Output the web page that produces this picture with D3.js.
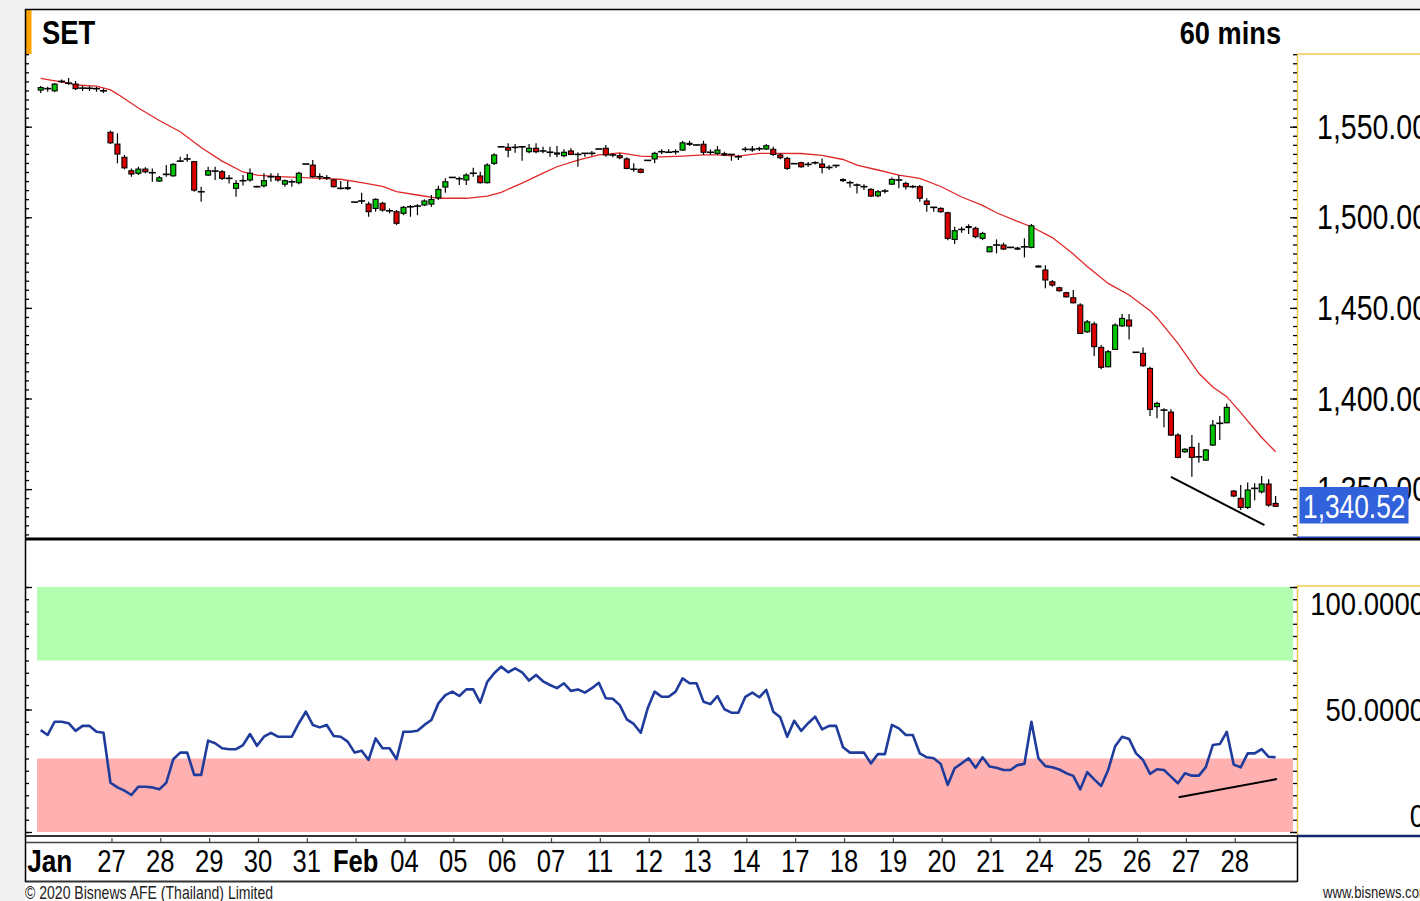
<!DOCTYPE html>
<html>
<head>
<meta charset="utf-8">
<script src="https://cdn.jsdelivr.net/npm/d3@7"></script>
<style>
  html, body { margin: 0; padding: 0; background: #f0f0f0; }
  svg { display: block; }
</style>
</head>
<body>
<div id="chart"></div>
<script>
// SET index, 60 minute candles (Jan 23 - Feb 28, 2020)
const opens = [
  1570.2,1571.0,1569.8,1575.0,1574.3,1573.5,1571.3,1571.2,1571.0,1569.8,
  1546.9,1540.4,1533.1,1525.7,1524.3,1526.6,1524.6,1520.0,1523.7,1522.9,
  1531.0,1532.2,1530.7,1514.1,1523.3,1525.5,1525.1,1521.5,1516.0,1520.2,
  1520.6,1516.9,1517.4,1522.4,1522.4,1518.3,1519.6,1519.1,1529.4,1528.8,
  1522.4,1521.8,1520.6,1516.0,1516.4,1508.4,1509.0,1507.3,1504.9,1507.7,
  1503.6,1503.1,1502.2,1505.8,1506.2,1506.8,1507.3,1510.7,1516.7,1522.0,
  1521.3,1520.6,1524.3,1522.8,1519.1,1529.8,1538.9,1538.6,1538.6,1538.9,
  1536.2,1538.1,1536.6,1535.9,1535.5,1534.0,1536.6,1534.7,1535.3,1535.3,
  1537.7,1538.1,1534.4,1534.0,1532.2,1526.5,1526.5,1531.4,1532.2,1536.2,
  1535.9,1536.2,1537.1,1540.8,1539.9,1540.3,1535.9,1535.3,1535.1,1534.7,
  1533.4,1537.5,1537.7,1537.8,1537.7,1537.5,1534.4,1532.5,1529.6,1530.1,
  1529.2,1530.1,1529.4,1527.5,1528.6,1520.8,1519.1,1517.8,1516.9,1515.4,
  1511.9,1514.5,1518.3,1520.6,1518.7,1516.9,1516.9,1509.0,1505.5,1504.9,
  1502.5,1487.8,1493.3,1494.9,1493.9,1488.4,1481.0,1484.7,1484.7,1483.4,
  1483.0,1483.7,1483.4,1473.1,1470.9,1464.4,1461.1,1458.4,1455.6,1451.6,
  1436.8,1441.1,1428.2,1417.5,1427.1,1440.1,1443.3,1425.5,1424.9,1416.6,
  1395.5,1393.6,1392.5,1379.8,1370.6,1373.0,1367.8,1366.0,1374.3,1386.3,
  1386.6,1348.9,1344.9,1339.9,1350.4,1348.5,1352.8,1342.1
];
const highs = [
  1572.4,1572.0,1574.1,1576.0,1576.9,1575.2,1572.7,1572.4,1572.0,1571.1,
  1547.8,1546.3,1534.4,1527.0,1527.9,1527.6,1527.0,1522.8,1528.8,1529.8,
  1533.4,1534.9,1530.8,1516.9,1527.9,1527.9,1526.1,1523.3,1520.6,1523.3,
  1527.0,1517.4,1524.3,1524.3,1524.3,1520.9,1520.9,1525.1,1529.4,1531.6,
  1524.3,1523.3,1520.9,1520.0,1520.0,1508.4,1513.6,1508.6,1510.5,1508.6,
  1504.9,1504.0,1506.2,1506.8,1507.3,1509.9,1512.3,1517.4,1521.5,1522.2,
  1522.4,1524.3,1527.3,1525.1,1529.8,1535.3,1539.2,1540.8,1540.4,1538.9,
  1540.4,1540.8,1538.9,1538.9,1539.3,1537.5,1538.1,1535.9,1535.3,1536.6,
  1537.9,1539.9,1535.3,1535.3,1533.1,1529.8,1527.0,1531.6,1536.2,1537.5,
  1537.5,1537.5,1542.2,1542.2,1540.1,1542.2,1537.5,1539.3,1536.2,1534.7,
  1534.4,1538.9,1539.3,1538.9,1540.4,1538.9,1535.3,1533.4,1529.8,1530.7,
  1530.5,1531.0,1532.5,1528.8,1528.6,1521.5,1520.2,1518.7,1518.2,1516.0,
  1515.0,1515.6,1522.0,1523.3,1519.6,1517.8,1517.8,1510.5,1505.5,1505.5,
  1503.1,1494.8,1494.8,1496.1,1494.8,1492.0,1484.1,1487.8,1486.0,1483.4,
  1483.7,1488.4,1496.3,1473.5,1473.6,1465.4,1461.7,1458.9,1459.9,1452.5,
  1443.3,1442.3,1429.5,1426.7,1441.5,1446.6,1446.6,1425.5,1428.2,1417.5,
  1398.2,1394.6,1394.0,1380.8,1372.5,1379.8,1375.6,1372.1,1388.1,1390.3,
  1397.3,1349.5,1352.2,1353.7,1353.2,1357.2,1355.4,1346.2
];
const lows = [
  1568.6,1569.3,1569.1,1574.1,1573.0,1570.2,1569.7,1569.7,1569.3,1568.6,
  1540.4,1529.8,1526.5,1522.4,1523.3,1524.3,1519.6,1519.6,1522.4,1522.4,
  1530.7,1530.7,1514.1,1508.6,1522.8,1520.6,1520.6,1518.7,1511.3,1517.6,
  1519.6,1516.5,1516.5,1519.6,1519.6,1516.9,1516.9,1518.3,1529.1,1522.0,
  1520.6,1520.6,1516.5,1515.4,1515.0,1508.4,1507.3,1500.3,1503.1,1503.1,
  1502.2,1495.7,1501.2,1500.3,1501.2,1506.2,1505.8,1509.5,1513.6,1521.7,
  1517.8,1517.8,1522.4,1518.7,1518.7,1528.8,1538.6,1533.1,1535.6,1531.2,
  1535.3,1535.3,1535.3,1533.4,1533.1,1533.1,1534.2,1527.9,1533.4,1534.0,
  1537.5,1533.4,1533.1,1532.0,1526.5,1525.1,1524.3,1531.2,1529.8,1534.9,
  1535.9,1534.7,1536.7,1539.3,1539.7,1534.4,1534.4,1534.4,1533.8,1531.2,
  1531.6,1536.2,1536.2,1536.6,1537.1,1533.8,1532.0,1526.1,1529.4,1527.3,
  1527.9,1529.2,1524.3,1526.1,1527.2,1519.5,1516.5,1513.2,1515.0,1511.3,
  1511.0,1513.2,1517.8,1516.0,1515.4,1516.0,1508.6,1503.1,1503.1,1502.5,
  1487.4,1485.2,1491.5,1490.8,1488.4,1487.4,1480.7,1480.1,1481.9,1482.9,
  1481.9,1477.9,1482.9,1472.4,1460.8,1461.7,1458.9,1455.8,1452.5,1435.6,
  1436.3,1423.4,1416.1,1417.2,1426.7,1439.4,1432.6,1425.5,1417.5,1390.3,
  1389.1,1384.1,1379.3,1367.0,1370.1,1356.8,1364.5,1365.5,1373.8,1377.1,
  1386.3,1345.5,1338.4,1339.0,1343.9,1347.6,1340.3,1340.3
];
const closes = [
  1571.6,1571.0,1573.5,1575.0,1574.0,1571.0,1571.3,1571.2,1571.0,1569.8,
  1541.1,1534.9,1527.3,1523.9,1526.6,1525.1,1524.6,1521.8,1523.7,1529.2,
  1531.0,1532.2,1515.0,1514.1,1525.7,1525.5,1521.5,1521.5,1518.7,1520.2,
  1524.3,1516.9,1520.2,1522.4,1520.6,1520.2,1519.6,1524.3,1529.4,1522.4,
  1522.4,1521.8,1516.9,1516.0,1516.0,1508.4,1509.0,1503.1,1509.9,1504.0,
  1503.6,1496.7,1505.5,1505.8,1506.2,1509.0,1509.8,1515.4,1519.6,1522.0,
  1521.3,1523.3,1524.3,1519.1,1528.8,1534.4,1538.9,1537.1,1538.6,1538.9,
  1538.1,1536.2,1536.6,1535.9,1534.9,1535.9,1534.7,1534.7,1535.3,1535.3,
  1537.7,1534.4,1534.4,1532.9,1527.0,1526.5,1524.8,1531.4,1535.3,1536.2,
  1535.9,1536.2,1541.1,1540.4,1539.9,1535.9,1535.9,1537.1,1534.4,1534.7,
  1533.4,1537.5,1537.3,1537.8,1539.5,1534.7,1532.9,1527.0,1529.6,1527.9,
  1529.2,1530.1,1527.5,1527.5,1528.6,1520.3,1519.1,1517.8,1516.9,1511.7,
  1514.1,1514.5,1520.9,1520.6,1516.9,1516.9,1510.5,1507.1,1505.5,1503.1,
  1488.4,1492.6,1493.3,1494.5,1489.3,1491.1,1483.7,1484.7,1482.5,1483.4,
  1482.6,1483.7,1495.3,1472.7,1465.4,1462.6,1459.5,1456.1,1452.8,1435.9,
  1442.3,1428.6,1417.2,1425.8,1440.5,1444.2,1440.0,1425.5,1418.1,1394.0,
  1397.3,1393.6,1379.8,1367.5,1372.0,1367.5,1367.8,1371.6,1385.3,1386.3,
  1395.1,1346.2,1339.9,1349.5,1350.4,1352.8,1341.2,1340.52
];

// moving average (red line), read at candle indexes
const maIdx = [0,1,4,5,8,10,11,14,17,20,23,26,29,31,34,37,40,43,46,49,51,54,57,61,64,66,69,72,74,77,
  80,83,86,89,92,95,97,100,103,106,109,112,115,117,120,123,126,129,132,135,137,140,142,145,148,150,
  153,156,159,160,163,166,168,170,172,175,177];
const maVal = [1576.7,1576.0,1574.1,1573.0,1572.4,1570.3,1568.0,1560.3,1553.4,1547.2,1538.5,1531.0,
  1525.0,1523.3,1522.4,1522.0,1521.5,1521.0,1519.1,1517.1,1514.2,1512.3,1510.5,1510.5,1511.7,1513.8,
  1518.9,1524.4,1527.9,1531.6,1534.4,1535.6,1533.8,1533.4,1533.8,1534.4,1534.4,1533.8,1535.3,1535.3,
  1535.2,1534.2,1531.9,1528.8,1526.1,1523.3,1521.5,1517.0,1511.2,1506.6,1502.5,1497.7,1494.8,1488.8,
  1479.7,1472.8,1463.5,1457.1,1448.5,1444.6,1430.4,1413.9,1406.3,1401.0,1392.2,1378.5,1370.6];

// RSI (lower panel)
const rsi = [
  41.6,39.6,45.0,45.0,44.4,41.3,43.3,43.3,40.9,40.5,
  20.1,18.2,16.9,15.1,18.5,18.5,18.2,17.4,20.1,29.7,
  32.4,32.4,23.3,23.3,37.3,36.2,34.2,33.8,33.8,35.5,
  40.0,35.2,38.9,40.5,38.9,38.9,38.9,44.4,49.1,43.7,
  42.7,43.7,39.2,38.9,36.9,32.4,33.2,29.4,38.2,34.2,
  34.2,29.7,40.9,40.9,41.3,43.7,45.7,52.5,55.9,57.3,
  55.5,58.2,58.2,52.8,61.3,64.8,67.5,65.2,66.8,65.2,
  61.8,64.1,61.5,60.0,58.7,60.7,57.6,58.2,56.9,58.7,
  60.9,54.6,54.4,51.8,46.0,44.1,40.5,50.5,57.3,55.2,
  55.2,57.3,62.7,60.7,60.7,53.2,52.2,55.5,50.1,48.7,
  48.7,55.2,56.9,55.0,58.0,49.1,46.8,38.9,45.4,41.3,
  44.4,47.1,41.9,43.3,43.3,34.6,32.4,32.4,32.4,28.0,
  31.8,31.8,43.7,42.3,39.6,39.6,32.1,30.5,30.1,27.8,
  19.2,26.0,28.0,30.1,26.2,30.5,26.7,26.2,25.3,25.3,
  27.3,27.8,45.0,30.1,26.9,26.4,25.5,24.0,22.9,17.4,
  24.4,21.5,18.8,25.3,35.0,38.9,38.0,32.1,29.4,23.7,
  25.6,25.3,22.6,19.9,24.0,23.0,23.0,26.5,35.5,35.9,
  40.9,27.5,26.4,32.1,32.1,33.8,30.7,30.5
];

// hand-drawn divergence lines
const trendIdx = [162, 175.4];
const trendPrice = [1356.8, 1330.1];
const rsiTrendIdx = [163.1, 177.2];
const rsiTrendVal = [14.2, 21.6];

// x axis: first candle of each day
const dayStart = [10,17,24,31,38,45,52,59,66,73,80,87,94,101,108,115,122,129,136,143,150,157,164,171];
const dayLabels = ["27","28","29","30","31","Feb","04","05","06","07","11","12","13","14","17","18","19","20","21","24","25","26","27","28"];
const monthLabel = "Jan";

const priceLabels = [1550, 1500, 1450, 1400, 1350];
const rsiTicks = [100, 50, 0];
const rsiTickLabels = ["100.0000", "50.0000", "0"];
const lastPrice = 1340.52;

const FONT = "'Liberation Sans', Arial, sans-serif";
const W = 1420, H = 901;

const svg = d3.select("#chart").append("svg")
  .attr("width", W).attr("height", H);

svg.append("rect").attr("width", W).attr("height", H).attr("fill", "#f0f0f0");
svg.append("rect").attr("x", 25).attr("y", 9).attr("width", W - 25).attr("height", H - 9).attr("fill", "#fff");

// scales
const x = d3.scaleLinear().domain([0, 177]).range([40.7, 1275.6]);
const yP = d3.scaleLinear().domain([1550, 1350]).range([126.7, 489.1]);
const yR = d3.scaleLinear().domain([0, 100]).range([832, 587]);

function label(g, px, py, str, o) {
  return g.append("text")
    .attr("transform", `translate(${px},${py}) scale(${o.sx || 0.82},1)`)
    .attr("text-anchor", o.anchor || "start")
    .attr("font-family", FONT)
    .attr("font-size", o.size)
    .attr("font-weight", o.weight || "normal")
    .attr("fill", o.fill || "#000")
    .text(str);
}

function ticks(g, axis, px, values, size) {
  const a = g.append("g")
    .attr("transform", `translate(${px},0)`)
    .call(axis.tickValues(values).tickSize(size).tickFormat(""));
  a.select(".domain").remove();
  a.selectAll(".tick line").attr("stroke", "#000").attr("stroke-width", 1.3);
}

// ---------- upper panel ----------
const upper = svg.append("g");

// orange marker + titles
upper.append("rect").attr("x", 26).attr("y", 10).attr("width", 5.5).attr("height", 44).attr("fill", "#ffa200");
label(upper, 42, 44, "SET", { size: 33, weight: "bold", sx: 0.83 });
label(upper, 1281, 43.5, "60 mins", { size: 32, weight: "bold", sx: 0.85, anchor: "end" });

// price axis frame
upper.append("line").attr("x1", 1297).attr("x2", W).attr("y1", 54).attr("y2", 54)
  .attr("stroke", "#f2c94c").attr("stroke-width", 1.5);
upper.append("line").attr("x1", 1297.5).attr("x2", 1297.5).attr("y1", 54).attr("y2", 538)
  .attr("stroke", "#f2c94c").attr("stroke-width", 1.5);

const priceMinor = d3.range(1325, 1595, 5);
ticks(upper, d3.axisRight(yP), 25, priceMinor, 4);
ticks(upper, d3.axisRight(yP), 25, priceLabels, 7);
ticks(upper, d3.axisLeft(yP), 1297, priceMinor, 4);
ticks(upper, d3.axisLeft(yP), 1297, priceLabels, 7);

priceLabels.forEach(v => {
  label(upper, 1428, yP(v) + 12, d3.format(",.2f")(v), { size: 35, sx: 0.815, anchor: "end" });
});

// last price box
upper.append("rect").attr("x", 1299.5).attr("y", 487).attr("width", 109).attr("height", 36.5).attr("fill", "#3162dc");
label(upper, 1303, 517.5, d3.format(",.2f")(lastPrice), { size: 32.5, sx: 0.81, fill: "#fff" });

// moving average
const maLine = d3.line().x(d => x(d[0])).y(d => yP(d[1]));
upper.append("path")
  .datum(maIdx.map((d, i) => [d, maVal[i]]))
  .attr("d", maLine)
  .attr("fill", "none")
  .attr("stroke", "#e02828")
  .attr("stroke-width", 1.3);

// candles
const candles = upper.selectAll(".candle")
  .data(opens.map((o, i) => ({ i, o, h: highs[i], l: lows[i], c: closes[i] })))
  .enter().append("g").attr("class", "candle");

candles.append("line")
  .attr("x1", d => x(d.i)).attr("x2", d => x(d.i))
  .attr("y1", d => yP(d.h)).attr("y2", d => yP(d.l))
  .attr("stroke", "#000").attr("stroke-width", 1.2);

candles.filter(d => Math.abs(d.o - d.c) < 0.3)
  .append("line")
  .attr("x1", d => x(d.i) - 3.5).attr("x2", d => x(d.i) + 3.5)
  .attr("y1", d => yP(d.c)).attr("y2", d => yP(d.c))
  .attr("stroke", "#000").attr("stroke-width", 1.6);

candles.filter(d => Math.abs(d.o - d.c) >= 0.3)
  .append("rect")
  .attr("x", d => x(d.i) - 2.5)
  .attr("width", 5)
  .attr("y", d => yP(Math.max(d.o, d.c)))
  .attr("height", d => Math.max(1, Math.abs(yP(d.o) - yP(d.c))))
  .attr("fill", d => d.c > d.o ? "#00c400" : "#dd0000")
  .attr("stroke", "#000")
  .attr("stroke-width", 1.1);

// divergence line on price
upper.append("line")
  .attr("x1", x(trendIdx[0])).attr("y1", yP(trendPrice[0]))
  .attr("x2", x(trendIdx[1])).attr("y2", yP(trendPrice[1]))
  .attr("stroke", "#000").attr("stroke-width", 2);

// panel separator
svg.append("line").attr("x1", 25).attr("x2", W).attr("y1", 539).attr("y2", 539)
  .attr("stroke", "#000").attr("stroke-width", 3);
svg.append("line").attr("x1", 1297).attr("x2", W).attr("y1", 537.2).attr("y2", 537.2)
  .attr("stroke", "#1d3fb5").attr("stroke-width", 1.6);

// ---------- RSI panel ----------
const lower = svg.append("g");

lower.append("rect").attr("x", 37).attr("width", 1256)
  .attr("y", yR(100)).attr("height", yR(70) - yR(100)).attr("fill", "#b3ffb0");
lower.append("rect").attr("x", 37).attr("width", 1256)
  .attr("y", yR(30)).attr("height", yR(0) - yR(30)).attr("fill", "#ffb0b0");

lower.append("line").attr("x1", 1297).attr("x2", W).attr("y1", 586).attr("y2", 586)
  .attr("stroke", "#f2c94c").attr("stroke-width", 1.5);
lower.append("line").attr("x1", 1297.5).attr("x2", 1297.5).attr("y1", 586).attr("y2", 835)
  .attr("stroke", "#f2c94c").attr("stroke-width", 1.5);

const rsiMinor = d3.range(0, 101, 5);
ticks(lower, d3.axisRight(yR), 25, rsiMinor, 4);
ticks(lower, d3.axisRight(yR), 25, rsiTicks, 7);
ticks(lower, d3.axisLeft(yR), 1297, rsiMinor, 4);
ticks(lower, d3.axisLeft(yR), 1297, rsiTicks, 7);

rsiTicks.forEach((v, k) => {
  const by = v === 100 ? yR(v) + 28 : v === 0 ? yR(v) - 5 : yR(v) + 11;
  label(lower, 1425, by, rsiTickLabels[k], { size: 32, sx: 0.86, anchor: "end" });
});

lower.append("path")
  .datum(rsi)
  .attr("d", d3.line().x((d, i) => x(i)).y(d => yR(d)))
  .attr("fill", "none")
  .attr("stroke", "#1f3c9c")
  .attr("stroke-width", 2.6)
  .attr("stroke-linejoin", "round");

lower.append("line")
  .attr("x1", x(rsiTrendIdx[0])).attr("y1", yR(rsiTrendVal[0]))
  .attr("x2", x(rsiTrendIdx[1])).attr("y2", yR(rsiTrendVal[1]))
  .attr("stroke", "#000").attr("stroke-width", 2);

// ---------- date axis ----------
const ax = svg.append("g");
ax.append("line").attr("x1", 25).attr("x2", 1297).attr("y1", 836).attr("y2", 836)
  .attr("stroke", "#333").attr("stroke-width", 2);
ax.append("line").attr("x1", 1297).attr("x2", W).attr("y1", 836).attr("y2", 836)
  .attr("stroke", "#14286e").attr("stroke-width", 2.5);
ax.append("line").attr("x1", 25).attr("x2", 1297).attr("y1", 842.5).attr("y2", 842.5)
  .attr("stroke", "#444").attr("stroke-width", 1.5);
ax.append("line").attr("x1", 25).attr("x2", 1297).attr("y1", 881.5).attr("y2", 881.5)
  .attr("stroke", "#333").attr("stroke-width", 2);
ax.append("line").attr("x1", 1297.5).attr("x2", 1297.5).attr("y1", 836).attr("y2", 882)
  .attr("stroke", "#000").attr("stroke-width", 1.5);

const xAxis = ax.append("g")
  .attr("transform", "translate(1,842)")
  .call(d3.axisTop(x).tickValues(dayStart).tickSize(4).tickFormat(""));
xAxis.select(".domain").remove();
xAxis.selectAll(".tick line").attr("stroke", "#444").attr("stroke-width", 1.2);

label(ax, x(0) - 13.5, 872, monthLabel, { size: 32, weight: "bold", sx: 0.82 });
dayStart.forEach((d, k) => {
  const bold = isNaN(+dayLabels[k]);
  label(ax, x(d) + 1, 872, dayLabels[k], { size: 32, weight: bold ? "bold" : "normal", sx: 0.8, anchor: "middle" });
});

// ---------- frame & footer ----------
svg.append("line").attr("x1", 25).attr("x2", W).attr("y1", 9.5).attr("y2", 9.5)
  .attr("stroke", "#000").attr("stroke-width", 1.5);
svg.append("line").attr("x1", 25.5).attr("x2", 25.5).attr("y1", 9).attr("y2", 882)
  .attr("stroke", "#000").attr("stroke-width", 1.5);

label(svg, 25, 899, "\u00a9 2020 Bisnews AFE (Thailand) Limited", { size: 18, sx: 0.78, fill: "#222" });
label(svg, 1323, 898, "www.bisnews.com", { size: 17, sx: 0.77, fill: "#222" });
</script>
</body>
</html>
